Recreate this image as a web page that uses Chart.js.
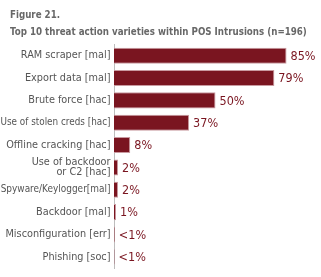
<!DOCTYPE html>
<html><head><meta charset="utf-8">
<script src="https://cdn.jsdelivr.net/npm/chart.js@4"></script>
<style>html,body{margin:0;padding:0;background:#fff}#wrap{width:321px;height:277px;position:relative}</style>
</head><body><div id="wrap"><canvas id="c" width="321" height="277"></canvas></div>
<script>
const categories = ["RAM scraper [mal]","Export data [mal]","Brute force [hac]","Use of stolen creds [hac]","Offline cracking [hac]",["Use of backdoor","or C2 [hac]"],"Spyware/Keylogger[mal]","Backdoor [mal]","Misconfiguration [err]","Phishing [soc]"];
const values = [85,79,50,37,8,2,2,1,0.4,0.3];
const valueLabels = ["85%","79%","50%","37%","8%","2%","2%","1%","<1%","<1%"];
const titleLines = ["Figure 21.","Top 10 threat action varieties within POS Intrusions (n=196)"];

const FONT = "'DejaVu Sans Condensed',sans-serif";
const RED = '#7a1520';

// shrink a tick label font only if it would not fit the 110px label column
const mctx = document.createElement('canvas').getContext('2d');
function fitSize(label, base, maxW, weight){
  const lines = Array.isArray(label) ? label : [label];
  mctx.font = (weight ? weight + " " : "") + base + "px " + FONT;
  const w = Math.max(...lines.map(l => mctx.measureText(l).width));
  return w > maxW ? base * maxW / w : base;
}

const labelPlugin = {
  id:'vlabels',
  afterDatasetsDraw(chart){
    const ctx = chart.ctx;
    const meta = chart.getDatasetMeta(0);
    ctx.save();
    ctx.font = "12.5px " + FONT;
    ctx.fillStyle = RED;
    ctx.textBaseline = 'middle';
    ctx.textAlign = 'left';
    meta.data.forEach((bar,i)=>{
      ctx.fillText(valueLabels[i], bar.x + 4, bar.y + 1);
    });
    ctx.restore();
  }
};

const titlePlugin = {
  id:'leftTitle',
  afterDraw(chart){
    const ctx = chart.ctx;
    const size = fitSize(titleLines[1], 11.2, 297, 'bold');
    ctx.save();
    ctx.font = "bold " + size + "px " + FONT;
    ctx.fillStyle = '#686868';
    ctx.textBaseline = 'middle';
    ctx.textAlign = 'left';
    ctx.fillText(titleLines[0], 10, 15.5);
    ctx.fillText(titleLines[1], 10, 32);
    ctx.restore();
  }
};

new Chart(document.getElementById('c'), {
  type:'bar',
  data:{labels:categories, datasets:[{data:values, backgroundColor:RED, borderColor:'#c99aa0', borderWidth:{top:1,right:1,bottom:1,left:0}, borderSkipped:'left', barPercentage:0.72, categoryPercentage:1}]},
  options:{
    indexAxis:'y', responsive:false, animation:false,
    layout:{padding:{left:0,right:4,top:44.5,bottom:9}},
    plugins:{
      legend:{display:false}, tooltip:{enabled:false}, title:{display:false}
    },
    scales:{
      x:{display:false, min:0, max:100},
      y:{
        afterFit(s){ s.width = 114; },
        grid:{display:false, drawTicks:false},
        border:{display:true, color:'#bdbdbd', width:1},
        ticks:{color:'#555', padding:3.5, autoSkip:false,
          font:(ctx)=>({family:FONT, size:fitSize(categories[ctx.index], 10.8, 110), lineHeight:0.95})}
      }
    }
  },
  plugins:[labelPlugin, titlePlugin]
});
</script></body></html>
